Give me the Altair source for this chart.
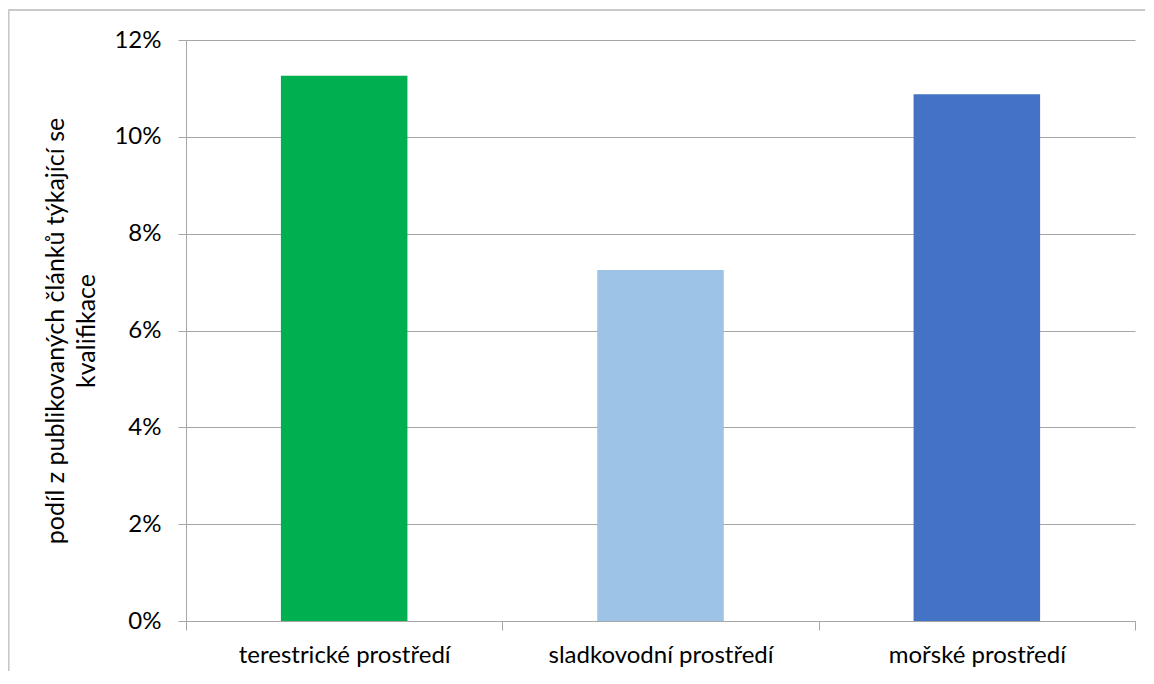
import altair as alt
import pandas as pd

categories = ["terestrické prostředí", "sladkovodní prostředí", "mořské prostředí"]
values = [0.1126, 0.0725, 0.1088]
colors = ["#00B050", "#9DC3E6", "#4472C4"]
y_ticks = [0, 0.02, 0.04, 0.06, 0.08, 0.10, 0.12]
y_title = ["podíl z publikovaných článků týkající se", "kvalifikace"]

df = pd.DataFrame({"cat": categories, "val": values, "color": colors})

FONT = "Lato"
FS = 24
GRID = "#A6A6A6"

bars = alt.Chart(df).mark_bar(width=alt.RelativeBandSize(0.4)).encode(
    x=alt.X(
        "cat:N",
        sort=categories,
        scale=alt.Scale(paddingInner=0, paddingOuter=0),
        axis=alt.Axis(
            title=None,
            labelAngle=0,
            labelFont=FONT,
            labelFontSize=FS,
            labelColor="#000000",
            labelPadding=13,
            labelLimit=0,
            tickBand="extent",
            tickSize=9,
            tickColor=GRID,
            domainColor=GRID,
            grid=False,
        ),
    ),
    y=alt.Y(
        "val:Q",
        scale=alt.Scale(domain=[0, 0.12], nice=False),
        axis=alt.Axis(
            values=y_ticks,
            format=".0%",
            title=y_title,
            titleFont=FONT,
            titleFontSize=25,
            titleFontWeight="normal",
            titleColor="#000000",
            titleLineHeight=31,
            titlePadding=14,
            labelFont=FONT,
            labelFontSize=FS,
            labelColor="#000000",
            labelPadding=17,
            tickSize=8,
            tickColor=GRID,
            domainColor=GRID,
            gridColor=GRID,
        ),
    ),
    color=alt.Color("color:N", scale=None, legend=None),
)

border = alt.Chart(df).mark_rule(color="#C8C8C8", strokeWidth=1.5).encode(
    x=alt.value(-177.5), x2=alt.value(965), y=alt.value(-30)
)
border_left = alt.Chart(df).mark_rule(color="#C8C8C8", strokeWidth=1.5).encode(
    x=alt.value(-177.5), y=alt.value(-30), y2=alt.value(700)
)

chart = alt.layer(bars, border, border_left).properties(
    width=949,
    height=581,
    autosize=alt.AutoSizeParams(type="none"),
    padding={"left": 178, "top": 32, "right": 10, "bottom": 50},
).configure_view(stroke=None)

chart.save("out.html", embed_options={"renderer": "svg", "actions": False})
